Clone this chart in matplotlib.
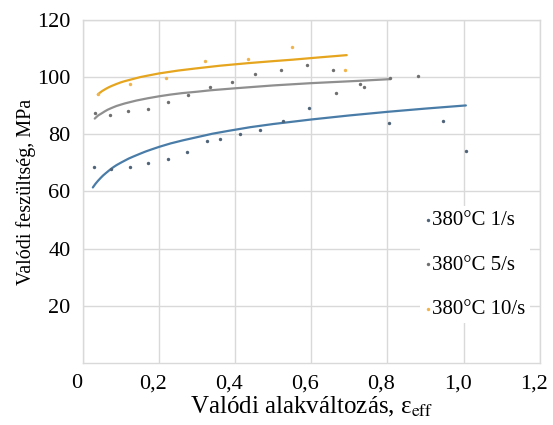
import matplotlib
matplotlib.use("Agg")
import matplotlib.pyplot as plt
import matplotlib.transforms as mtransforms

plt.rcParams['font.family'] = ['Liberation Serif', 'DejaVu Serif']
plt.rcParams['mathtext.fontset'] = 'stix'
plt.rcParams['font.size'] = 14

# measured points
x_1s = [0.028, 0.075, 0.123, 0.171, 0.224, 0.274, 0.326, 0.36, 0.412, 0.465, 0.526, 0.595, 0.803, 0.947, 1.006]
y_1s = [68.6, 68.0, 68.6, 70.0, 71.3, 73.9, 77.7, 78.5, 80.2, 81.6, 84.5, 89.2, 84.0, 84.6, 74.2]

x_5s = [0.031, 0.07, 0.118, 0.171, 0.224, 0.276, 0.333, 0.392, 0.451, 0.52, 0.588, 0.656, 0.664, 0.728, 0.739, 0.807, 0.88]
y_5s = [87.4, 86.6, 88.3, 88.9, 91.3, 93.9, 96.4, 98.3, 101.1, 102.6, 104.2, 102.6, 94.5, 97.6, 96.4, 99.7, 100.5]

x_10s = [0.04, 0.123, 0.219, 0.32, 0.434, 0.548, 0.689]
y_10s = [94.0, 97.6, 99.7, 105.7, 106.3, 110.7, 102.6]

# trendlines
tx_1s = [0.026, 0.033, 0.04, 0.047, 0.053, 0.06, 0.07, 0.08, 0.088, 0.1, 0.11, 0.12, 0.132, 0.15, 0.165, 0.18, 0.2, 0.23, 0.263, 0.3, 0.34, 0.382, 0.44, 0.5, 0.601, 0.7, 0.803, 0.9, 1.006]
ty_1s = [61.4, 62.7, 63.8, 64.8, 65.6, 66.4, 67.5, 68.5, 69.2, 70.1, 70.8, 71.5, 72.2, 73.2, 74.0, 74.7, 75.6, 76.8, 77.9, 79.0, 80.2, 81.2, 82.5, 83.6, 85.2, 86.6, 87.9, 89.0, 90.1]

tx_5s = [0.031, 0.035, 0.04, 0.045, 0.05, 0.057, 0.065, 0.075, 0.088, 0.1, 0.11, 0.125, 0.14, 0.17, 0.2, 0.23, 0.26, 0.3, 0.335, 0.4, 0.5, 0.6, 0.724, 0.807]
ty_5s = [85.5, 86.0, 86.6, 87.0, 87.4, 88.0, 88.6, 89.2, 89.9, 90.4, 90.8, 91.3, 91.8, 92.6, 93.3, 93.9, 94.4, 94.9, 95.4, 96.1, 97.1, 97.9, 98.7, 99.3]

tx_10s = [0.039, 0.044, 0.05, 0.055, 0.06, 0.067, 0.075, 0.088, 0.1, 0.11, 0.13, 0.15, 0.165, 0.2, 0.25, 0.3, 0.36, 0.434, 0.5, 0.55, 0.62, 0.693]
ty_10s = [93.9, 94.5, 95.1, 95.5, 95.9, 96.4, 96.9, 97.6, 98.2, 98.6, 99.3, 100.0, 100.4, 101.3, 102.3, 103.1, 104.0, 104.9, 105.6, 106.1, 106.9, 107.7]

labels = ["380°C 1/s", "380°C 5/s", "380°C 10/s"]
line_colors = ["#4a7ca8", "#8f8f8f", "#e6a51e"]
dot_colors = ["#4f6478", "#6f6f6f", "#f0b44a"]

xticks = [0, 0.2, 0.4, 0.6, 0.8, 1.0, 1.2]
xticklabels = ["0", "0,2", "0,4", "0,6", "0,8", "1,0", "1,2"]
yticks = [20, 40, 60, 80, 100, 120]

fig = plt.figure(figsize=(5.53, 4.25), dpi=100)
ax = fig.add_axes([0.150, 0.146, 0.826, 0.807])

series = [(x_1s, y_1s, tx_1s, ty_1s), (x_5s, y_5s, tx_5s, ty_5s), (x_10s, y_10s, tx_10s, ty_10s)]
for (xs, ys, tx, ty), lab, lc, dc in zip(series, labels, line_colors, dot_colors):
    ax.plot(tx, ty, color=lc, lw=1.6, solid_joinstyle='round', solid_capstyle='round', zorder=3)
    ax.scatter(xs, ys, s=6, color=dc, linewidths=0, zorder=4, label=lab)

ax.set_xlim(0, 1.2)
ax.set_ylim(0, 120)
ax.set_xticks(xticks)
ax.set_xticklabels(xticklabels)
ax.set_yticks(yticks)
ax.tick_params(length=0, labelsize=16)
ax.tick_params(axis='y', pad=9)
ax.tick_params(axis='x', pad=8)

# Excel-like label offset to the left
off = mtransforms.ScaledTranslation(-6 / 100, 0, fig.dpi_scale_trans)
for lbl in ax.get_xticklabels():
    lbl.set_transform(lbl.get_transform() + off)

ax.grid(True, color='#d9d9d9', lw=1.0)
ax.set_axisbelow(True)
for sp in ax.spines.values():
    sp.set_color('#d9d9d9')
    sp.set_linewidth(1.0)

ax.set_xlabel("Valódi alakváltozás, ε$_{\\mathrm{eff}}$", fontsize=18, labelpad=1)
ax.set_ylabel("Valódi feszültség, MPa", fontsize=14.5, labelpad=1)

leg = ax.legend(loc='lower left', bbox_to_anchor=(0.715, 0.085), frameon=True,
                facecolor='white', edgecolor='none', framealpha=1,
                handlelength=0.4, handletextpad=0.0, labelspacing=1.2,
                markerscale=1.0, fontsize=15, borderpad=0.2)

fig.savefig("out.png", dpi=100)
